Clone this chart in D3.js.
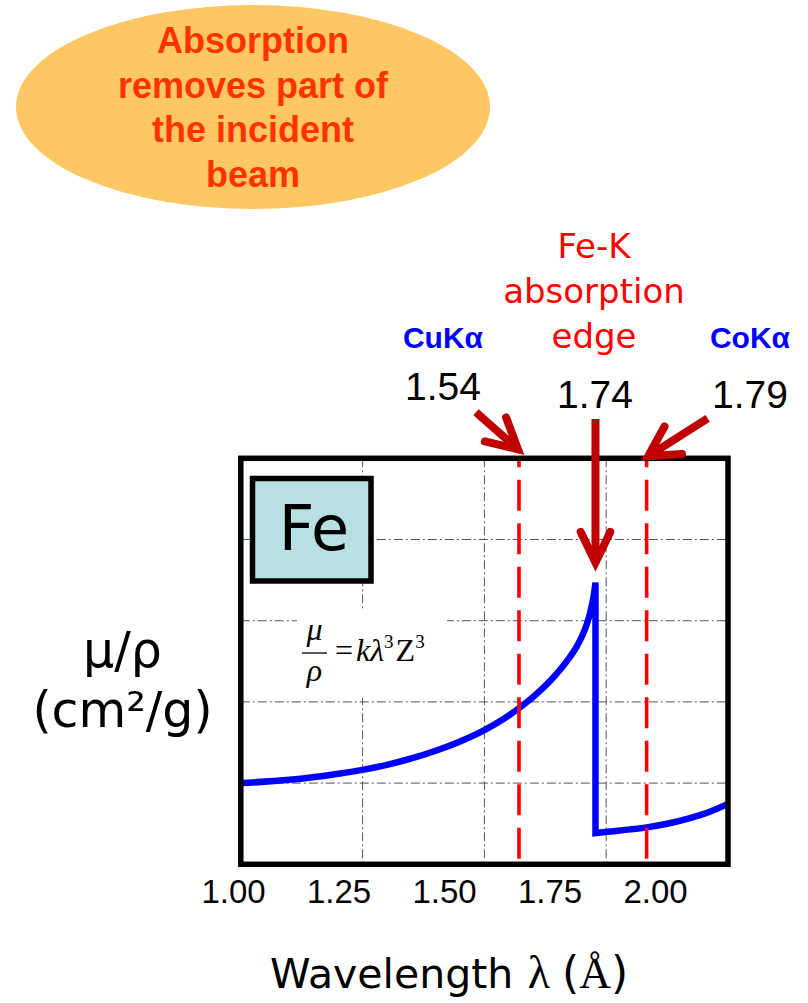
<!DOCTYPE html>
<html>
<head>
<meta charset="utf-8">
<script src="https://cdn.jsdelivr.net/npm/d3@7"></script>
<style>
  html, body { margin: 0; padding: 0; background: #fff; }
  svg { display: block; }
</style>
</head>
<body>
<svg id="chart" width="808" height="1003"></svg>
<script>
// ---------------- data ----------------
const tickValues = [1.00, 1.25, 1.50, 1.75, 2.00];
const tickLabels = ["1.00", "1.25", "1.50", "1.75", "2.00"];
const yGridValues = [1, 2, 3, 4];

// mass absorption coefficient (relative units) below the K edge
const lambdaLow = [1.00, 1.10, 1.20, 1.25, 1.30, 1.35, 1.40, 1.45, 1.50, 1.54, 1.575, 1.61, 1.64, 1.67, 1.69, 1.70, 1.71, 1.716, 1.721, 1.725, 1.728];
const muLow     = [1.00, 1.04, 1.115, 1.163, 1.225, 1.303, 1.398, 1.513, 1.653, 1.793, 1.94, 2.115, 2.292, 2.508, 2.688, 2.803, 2.953, 3.073, 3.203, 3.331, 3.47];
// above the K edge (longer wavelength)
const lambdaHigh = [1.728, 1.76, 1.80, 1.833, 1.88, 1.922, 1.96, 1.993, 2.00];
const muHigh     = [0.385, 0.405, 0.43, 0.455, 0.505, 0.568, 0.64, 0.725, 0.745];

const lineNames  = ["CuKα", "CoKα"];
const lineLabels = ["1.54", "1.79"];
const linePos    = [1.571, 1.833];

const edgeTitle = ["Fe-K", "absorption", "edge"];
const edgeLabel = "1.74";
const edgePos   = 1.728;

const titleLines = ["Absorption", "removes part of", "the incident", "beam"];
const elementName = "Fe";
const yLabelLines = ["μ/ρ", "(cm²/g)"];

// ---------------- drawing ----------------
const svg = d3.select("#chart");
const x  = d3.scaleLinear().domain([1, 2]).range([240.8, 728]);
const y  = d3.scaleLinear().domain([0, 5]).range([864.3, 458.3]);
const xl = d3.scaleLinear().domain([1, 2]).range([233, 655]); // tick label placement

// title ellipse
svg.append("ellipse").attr("cx", 253).attr("cy", 107).attr("rx", 237).attr("ry", 102)
  .attr("fill", "#fdc864");
svg.append("g").selectAll("text").data(titleLines).join("text")
  .attr("x", 253).attr("y", (d, i) => 53 + i * 44.6)
  .attr("text-anchor", "middle")
  .attr("font-family", "Liberation Sans, Arial, sans-serif")
  .attr("font-weight", "bold").attr("font-size", 36)
  .attr("fill", "#ff3300").text(d => d);

// grid
const grid = svg.append("g").attr("stroke", "#555").attr("stroke-width", 1)
  .attr("stroke-dasharray", "9,3,2,3");
grid.selectAll("line.v").data(tickValues.slice(1, -1)).join("line").attr("class", "v")
  .attr("x1", d => x(d)).attr("x2", d => x(d)).attr("y1", y(5)).attr("y2", y(0));
grid.selectAll("line.h").data(yGridValues).join("line").attr("class", "h")
  .attr("x1", x(1)).attr("x2", x(2)).attr("y1", d => y(d)).attr("y2", d => y(d));

// formula background
svg.append("rect").attr("x", 297).attr("y", 610).attr("width", 150).attr("height", 88).attr("fill", "#fff");

// absorption curve
const lineGen = d3.line().x(d => x(d[0])).y(d => y(d[1])).curve(d3.curveMonotoneX);
const low  = lambdaLow.map((l, i) => [l, muLow[i]]);
const high = lambdaHigh.map((l, i) => [l, muHigh[i]]);
const dPath = lineGen(low) + lineGen(high).replace(/^M/, "L");
svg.append("path").attr("d", dPath).attr("fill", "none")
  .attr("stroke", "#0000ff").attr("stroke-width", 6.5)
  .attr("stroke-linejoin", "miter").attr("stroke-linecap", "butt");

// characteristic lines (dashed red)
svg.append("g").selectAll("line").data(linePos).join("line")
  .attr("x1", d => x(d)).attr("x2", d => x(d)).attr("y1", y(5)).attr("y2", y(0))
  .attr("stroke", "#ff0000").attr("stroke-width", 3.6)
  .attr("stroke-dasharray", "31,12.5").attr("stroke-dashoffset", 22);

// frame
svg.append("rect").attr("x", x(1)).attr("y", y(5))
  .attr("width", x(2) - x(1)).attr("height", y(0) - y(5))
  .attr("fill", "none").attr("stroke", "#000").attr("stroke-width", 5.5);

// element box
svg.append("rect").attr("x", 252.5).attr("y", 478.5).attr("width", 118.5).attr("height", 102.5)
  .attr("fill", "#b8e0e2").attr("stroke", "#000").attr("stroke-width", 5.5);
svg.append("text").attr("x", 314).attr("y", 550).attr("text-anchor", "middle")
  .attr("font-family", "DejaVu Sans, sans-serif").attr("font-size", 62)
  .attr("fill", "#000").text(elementName);

// formula  mu/rho = k lambda^3 Z^3
const ff = "Liberation Serif, Times New Roman, serif";
svg.append("text").attr("x", 314.5).attr("y", 640).attr("text-anchor", "middle")
  .attr("font-family", ff).attr("font-style", "italic").attr("font-size", 32).text("μ");
svg.append("line").attr("x1", 302).attr("x2", 327).attr("y1", 653).attr("y2", 653)
  .attr("stroke", "#000").attr("stroke-width", 1.3);
svg.append("text").attr("x", 314.5).attr("y", 681).attr("text-anchor", "middle")
  .attr("font-family", ff).attr("font-style", "italic").attr("font-size", 32).text("ρ");
const ft = svg.append("text").attr("x", 335).attr("y", 661)
  .attr("font-family", ff).attr("font-size", 32).attr("fill", "#000");
ft.append("tspan").text("=");
ft.append("tspan").attr("font-style", "italic").attr("dx", 3).text("kλ");
ft.append("tspan").attr("font-size", 19).attr("dy", -13).text("3");
ft.append("tspan").attr("dy", 13).attr("dx", 2).text("Z");
ft.append("tspan").attr("font-size", 19).attr("dy", -13).text("3");

// arrows
const arrowColor = "#c00000";
function arrow(x0, y0, x1, y1, len, ang) {
  const a = Math.atan2(y0 - y1, x0 - x1);
  const p1 = [x1 + len * Math.cos(a + ang), y1 + len * Math.sin(a + ang)];
  const p2 = [x1 + len * Math.cos(a - ang), y1 + len * Math.sin(a - ang)];
  svg.append("line").attr("x1", x0).attr("y1", y0).attr("x2", x1 + 3 * Math.cos(a)).attr("y2", y1 + 3 * Math.sin(a))
    .attr("stroke", arrowColor).attr("stroke-width", 8);
  svg.append("path").attr("d", `M${p1[0]},${p1[1]}L${x1},${y1}L${p2[0]},${p2[1]}`)
    .attr("fill", "none").attr("stroke", arrowColor).attr("stroke-width", 8)
    .attr("stroke-linecap", "round").attr("stroke-linejoin", "miter");
}
arrow(x(linePos[0]) - 43, y(5) - 46, x(linePos[0]) - 1, y(5) - 9, 34, 0.49);
arrow(x(edgePos), 419, x(edgePos), y(muLow[muLow.length - 1]) - 20, 34, 0.45);
arrow(x(linePos[1]) + 61, y(5) - 40, x(linePos[1]) + 1.5, y(5) - 2, 34, 0.5);

// annotations
svg.append("g").selectAll("text").data(lineNames).join("text")
  .attr("x", (d, i) => [443, 750][i]).attr("y", 348).attr("text-anchor", "middle")
  .attr("font-family", "Liberation Sans, Arial, sans-serif").attr("font-weight", "bold")
  .attr("font-size", 30).attr("fill", "#0000ff").text(d => d);
svg.append("g").selectAll("text").data(lineLabels).join("text")
  .attr("x", (d, i) => [443, 750][i]).attr("y", (d, i) => [400, 408][i]).attr("text-anchor", "middle")
  .attr("font-family", "Liberation Sans, Arial, sans-serif")
  .attr("font-size", 39).attr("fill", "#000").text(d => d);
svg.append("text").attr("x", 595).attr("y", 408).attr("text-anchor", "middle")
  .attr("font-family", "Liberation Sans, Arial, sans-serif")
  .attr("font-size", 39).attr("fill", "#000").text(edgeLabel);
svg.append("g").selectAll("text").data(edgeTitle).join("text")
  .attr("x", 594).attr("y", (d, i) => 258 + i * 45).attr("text-anchor", "middle")
  .attr("font-family", "DejaVu Sans, sans-serif").attr("font-size", 34)
  .attr("fill", "#ff0000").text(d => d);

// x axis labels
const axis = d3.axisBottom(xl).tickValues(tickValues).tickFormat((d, i) => tickLabels[i]).tickSize(0).tickPadding(0);
const gAxis = svg.append("g").attr("transform", "translate(0,903)").call(axis);
gAxis.select(".domain").remove();
gAxis.attr("font-size", null).attr("font-family", null);
gAxis.selectAll("text").attr("font-family", "Liberation Sans, Arial, sans-serif")
  .attr("font-size", 33).attr("fill", "#000").attr("dy", 0).attr("y", 0);

// x axis title (three pieces: sans word, serif lambda, unit)
svg.append("text").attr("x", 270).attr("y", 988).attr("fill", "#000")
  .attr("font-family", "DejaVu Sans, sans-serif").attr("font-size", 41).text("Wavelength");
svg.append("text").attr("x", 539).attr("y", 988).attr("text-anchor", "middle").attr("fill", "#000")
  .attr("font-family", ff).attr("font-size", 46).text("λ");
const unit = svg.append("text").attr("x", 562).attr("y", 988).attr("fill", "#000")
  .attr("font-family", "DejaVu Sans, sans-serif").attr("font-size", 44);
unit.append("tspan").text("(");
unit.append("tspan").attr("font-family", ff).text("Å");
unit.append("tspan").text(")");

// y axis title
svg.append("g").selectAll("text").data(yLabelLines).join("text")
  .attr("x", 122.5).attr("y", (d, i) => [667, 727][i]).attr("text-anchor", "middle")
  .attr("font-family", "DejaVu Sans, sans-serif").attr("font-size", 49)
  .attr("fill", "#000").text(d => d);
</script>
</body>
</html>
